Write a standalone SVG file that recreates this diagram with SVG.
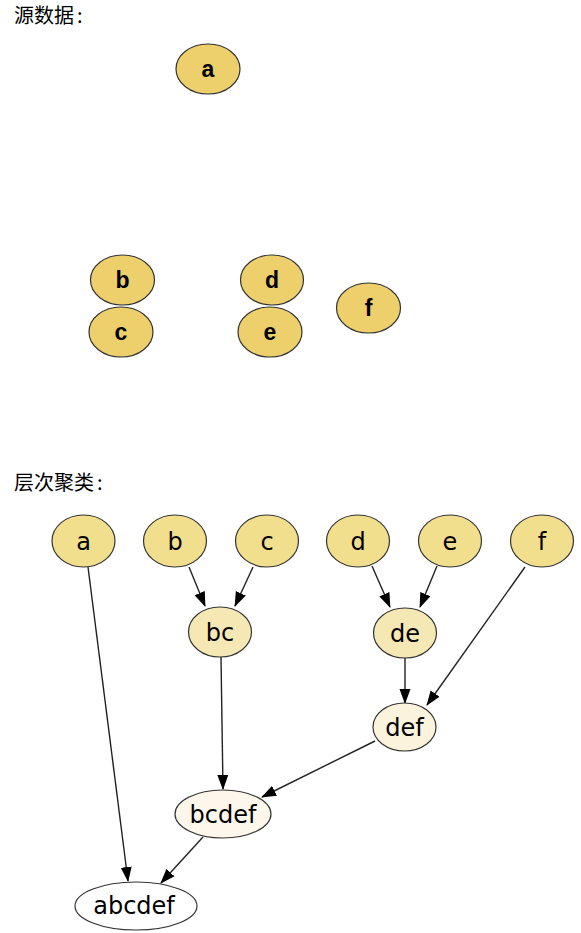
<svg xmlns="http://www.w3.org/2000/svg" width="581" height="933" viewBox="0 0 581 933">
<style>
.title{font-family:"Noto Sans CJK SC","Liberation Sans",sans-serif;font-size:20px;fill:#000}
.src ellipse{fill:#EDCF6B;stroke:#333;stroke-width:1.2}
.src text{font-family:"Liberation Sans",Arial,sans-serif;font-weight:bold;font-size:23px;text-anchor:middle;fill:#000}
.hc ellipse{stroke:#333;stroke-width:1.2}
.hc text{font-family:"DejaVu Sans",sans-serif;font-size:24px;text-anchor:middle;fill:#000}
.l0 ellipse{fill:#F2DF8E}
.l1 ellipse{fill:#F6E8B5}
.l2 ellipse{fill:#FBF3DC}
.l3 ellipse{fill:#FCF7EA}
.l4 ellipse{fill:#FFFFFF}
#connectors line{stroke:#222;stroke-width:1.4;marker-end:url(#arr)}
</style>
<defs>
<marker id="arr" markerUnits="userSpaceOnUse" markerWidth="15" markerHeight="12" refX="14" refY="5.5" orient="auto" viewBox="0 0 15 11">
<path d="M0,0 L15,5.5 L0,11 Z" fill="#000"/>
</marker>
</defs>
<rect width="581" height="933" fill="#fff"/>
<text class="title" x="14" y="23">源数据<tspan dx="3">:</tspan></text>
<g class="src">
<g id="sa"><ellipse cx="208" cy="69" rx="32" ry="25"/><text x="208" y="77">a</text></g>
<g id="sb"><ellipse cx="122.5" cy="280" rx="32" ry="25"/><text x="122.5" y="288">b</text></g>
<g id="sc"><ellipse cx="121" cy="332" rx="32" ry="25"/><text x="121" y="340">c</text></g>
<g id="sd"><ellipse cx="272" cy="280" rx="31.5" ry="25"/><text x="272" y="288">d</text></g>
<g id="se"><ellipse cx="270" cy="332" rx="32" ry="25"/><text x="270" y="340">e</text></g>
<g id="sf"><ellipse cx="368.5" cy="308" rx="32" ry="25"/><text x="368.5" y="316">f</text></g>
</g>
<text class="title" x="14" y="490">层次聚类<tspan dx="3">:</tspan></text>
<g id="connectors">
<line x1="88" y1="567" x2="128" y2="881"/>
<line x1="189" y1="567" x2="205" y2="606"/>
<line x1="253" y1="567" x2="235" y2="606"/>
<line x1="221" y1="657" x2="223" y2="789"/>
<line x1="372" y1="566" x2="390" y2="607"/>
<line x1="437" y1="566" x2="420" y2="607"/>
<line x1="525" y1="567" x2="427" y2="705"/>
<line x1="405" y1="658" x2="405" y2="703"/>
<line x1="375" y1="741" x2="262" y2="797"/>
<line x1="203" y1="837" x2="161" y2="883"/>
</g>
<g class="hc">
<g id="a" class="l0"><ellipse cx="83.5" cy="541" rx="31.5" ry="26"/><text x="83.5" y="550">a</text></g>
<g id="b" class="l0"><ellipse cx="175" cy="541" rx="31.5" ry="26"/><text x="175" y="550">b</text></g>
<g id="c" class="l0"><ellipse cx="267" cy="541" rx="31.5" ry="26"/><text x="267" y="550">c</text></g>
<g id="d" class="l0"><ellipse cx="358" cy="541" rx="31.5" ry="26"/><text x="358" y="550">d</text></g>
<g id="e" class="l0"><ellipse cx="450" cy="541" rx="31.5" ry="26"/><text x="450" y="550">e</text></g>
<g id="f" class="l0"><ellipse cx="542" cy="541" rx="31.5" ry="26"/><text x="542" y="550">f</text></g>
<g id="bc" class="l1"><ellipse cx="220" cy="632" rx="31.5" ry="25"/><text x="220" y="641">bc</text></g>
<g id="de" class="l1"><ellipse cx="405" cy="633" rx="31.5" ry="25"/><text x="405" y="642">de</text></g>
<g id="def" class="l2"><ellipse cx="404.5" cy="727" rx="31.5" ry="24"/><text x="404.5" y="736">def</text></g>
<g id="bcdef" class="l3"><ellipse cx="223" cy="814" rx="48" ry="24"/><text x="223" y="823">bcdef</text></g>
<g id="abcdef" class="l4"><ellipse cx="136" cy="906" rx="61" ry="24"/><text x="134" y="914">abcdef</text></g>
</g>
</svg>
